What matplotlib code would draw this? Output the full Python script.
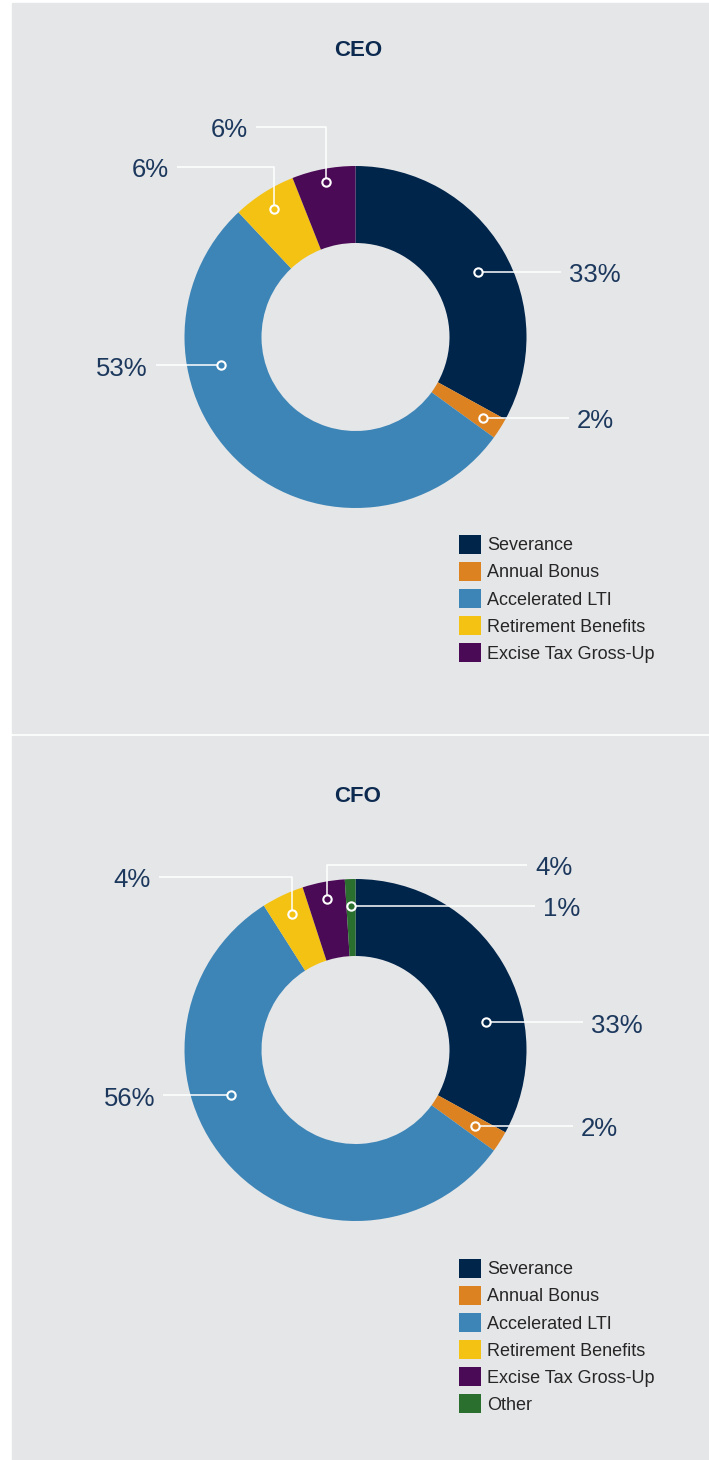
import matplotlib.pyplot as plt
from matplotlib.patches import Rectangle
import numpy as np

plt.rcParams['font.family'] = ['Liberation Sans', 'DejaVu Sans']

# data
categories = ["Severance", "Annual Bonus", "Accelerated LTI",
              "Retirement Benefits", "Excise Tax Gross-Up", "Other"]
colors = ["#00254b", "#dc8220", "#3d85b7", "#f4c213", "#4b0a55", "#2b6f2e"]

ceo_values = [33, 2, 53, 6, 6]
cfo_values = [33, 2, 56, 4, 4, 1]

# layout (page pixels)
W, H = 709, 1460
PANEL_BG = "#e5e6e8"
PCT_COLOR = "#1c385d"
TITLE_COLOR = "#0c2a50"
R_OUT, RING = 171, 77

ceo_layout = dict(title="CEO", panel=(12, 3, 709, 733), center=(355.5, 337),
                  title_y=51, legend_top=535,
                  dot_angle=[28, None, 192, None, None],
                  dot_r=[139, 151, 137, 152, 158],
                  elbow_y=[None, None, None, 167, 127],
                  line_end=[561, 569, 156, 177, 256])
cfo_layout = dict(title="CFO", panel=(12, 736, 709, 1460), center=(355.5, 1050),
                  title_y=796, legend_top=1259,
                  dot_angle=[12, None, 200, None, None, None],
                  dot_r=[133, 142, 133, 150, 154, 144],
                  elbow_y=[None, None, None, 877, 865, None],
                  line_end=[583, 573, 163, 159, 527, 535])

fig = plt.figure(figsize=(W / 100, H / 100), dpi=100, facecolor="white")


def draw_donut(values, lay):
    x0, y0, x1, y1 = lay["panel"]
    cx, cy = lay["center"]
    fig.patches.append(Rectangle((x0 / W, 1 - y1 / H), (x1 - x0) / W, (y1 - y0) / H,
                                 transform=fig.transFigure, color=PANEL_BG, zorder=-1))
    ax = fig.add_axes([x0 / W, 1 - y1 / H, (x1 - x0) / W, (y1 - y0) / H])
    ax.set_facecolor("none")

    wedges, _ = ax.pie(values, colors=colors[:len(values)], radius=R_OUT,
                       startangle=90, counterclock=False,
                       wedgeprops=dict(width=RING, linewidth=0))
    ax.set_aspect("equal")
    ax.set_xlim(x0 - cx, x1 - cx)
    ax.set_ylim(cy - y1, cy - y0)
    ax.axis("off")

    ax.text(358 - cx, cy - lay["title_y"], lay["title"], ha="center", va="center",
            fontsize=16, fontweight="bold", color=TITLE_COLOR)

    for i, (w, v) in enumerate(zip(wedges, values)):
        ang = lay["dot_angle"][i]
        if ang is None:
            ang = (w.theta1 + w.theta2) / 2
        r = lay["dot_r"][i]
        dx, dy = r * np.cos(np.radians(ang)), r * np.sin(np.radians(ang))
        ex = lay["line_end"][i] - cx
        if lay["elbow_y"][i] is None:
            ey = dy
            xs, ys = [dx, ex], [dy, ey]
        else:
            ey = cy - lay["elbow_y"][i]
            xs, ys = [dx, dx, ex], [dy, ey, ey]
        ax.plot(xs, ys, color="white", lw=1.1, solid_capstyle="butt", zorder=5)
        ax.plot(dx, dy, "o", ms=6, mfc=w.get_facecolor(), mec="white", mew=1.5, zorder=6)
        if ex > 0:
            tx, ha = ex + 8, "left"
        else:
            tx, ha = ex - 8, "right"
        ax.text(tx, ey - 1 - 9.2, f"{v}%", ha=ha, va="baseline", fontsize=18.5,
                color=PCT_COLOR)

    ax.legend(wedges, categories[:len(values)], loc="upper left",
              bbox_to_anchor=(459 - cx, cy - lay["legend_top"]),
              bbox_transform=ax.transData, frameon=False, fontsize=13,
              handlelength=1.22, handleheight=1.22, handletextpad=0.33,
              labelspacing=0.42, borderpad=0, borderaxespad=0,
              labelcolor="#262626")


draw_donut(ceo_values, ceo_layout)
draw_donut(cfo_values, cfo_layout)

fig.savefig("out.png", dpi=100, facecolor="white")
